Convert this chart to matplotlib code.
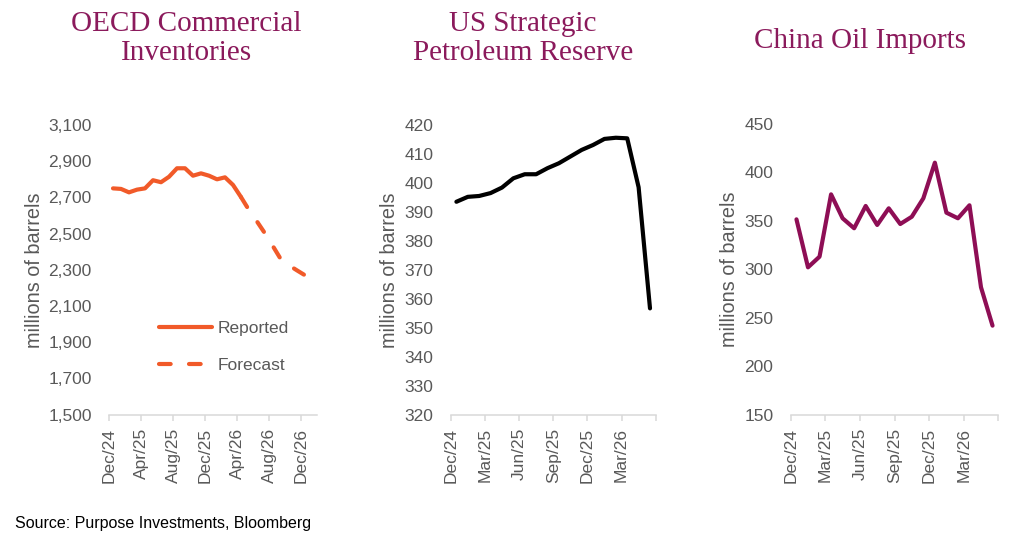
import numpy as np
import pandas as pd
import matplotlib
matplotlib.use('Agg')
import matplotlib.pyplot as plt

# data
oecd_months = pd.date_range('2024-12-01', periods=26, freq='MS').strftime('%b/%y').tolist()
oecd_reported = [2750, 2747, 2728, 2743, 2750, 2795, 2784, 2814, 2861, 2861, 2820, 2833,
                 2820, 2800, 2811, 2769, 2702]
oecd_forecast = [2702, 2630, 2567, 2501, 2430, 2357, 2325, 2297, 2270, 2300]

spr_months = pd.date_range('2024-12-01', periods=18, freq='MS').strftime('%b/%y').tolist()
spr = [393.5, 395.2, 395.5, 396.5, 398.4, 401.6, 403.0, 403.0, 405.1, 406.8, 409.1, 411.4,
       413.1, 415.2, 415.6, 415.4, 398.5, 356.7]

china_months = pd.date_range('2024-12-01', periods=18, freq='MS').strftime('%b/%y').tolist()
china = [351.6, 302.1, 313.1, 377.4, 352.7, 342.4, 365.4, 345.8, 363.0, 346.8, 354.3, 373.3,
         410.1, 358.5, 352.7, 366.1, 281.5, 241.9]

title_color = '#8B1A5C'
text_gray = '#595959'
axis_gray = '#D9D9D9'

plt.rcParams['font.family'] = ['Liberation Sans', 'DejaVu Sans']

fig = plt.figure(figsize=(10.24, 5.53), dpi=100)
W, H = 1024, 553


def make_axes(x0, x1, y0, y1):
    return fig.add_axes([x0 / W, 1 - y1 / H, (x1 - x0) / W, (y1 - y0) / H])


def style(ax, nmonths, step, labels, ylim, yticks, ylabel_x):
    for s in ['top', 'right', 'left']:
        ax.spines[s].set_visible(False)
    ax.spines['bottom'].set_color(axis_gray)
    ax.spines['bottom'].set_linewidth(1.1)
    ax.set_xlim(0, nmonths)
    ticks = list(range(0, nmonths + 1, step))
    ax.set_xticks(ticks)
    ax.set_xticklabels([labels[t] if t < len(labels) and t < nmonths - 1 else '' for t in ticks],
                       rotation=90)
    ax.tick_params(axis='x', direction='out', length=4, width=1.1, color=axis_gray,
                   labelsize=12.5, labelcolor=text_gray, pad=5.5)
    ax.set_ylim(*ylim)
    ax.set_yticks(yticks)
    ax.tick_params(axis='y', length=0, labelsize=12.5, labelcolor=text_gray, pad=12.5)
    ax.set_ylabel('millions of barrels', fontsize=14.3, color=text_gray)
    ax.yaxis.set_label_coords(ylabel_x, 0.5)


# OECD commercial inventories
ax1 = make_axes(109, 317, 125, 414.7)
x_rep = np.arange(len(oecd_reported)) + 0.5
x_fc = np.arange(len(oecd_forecast)) + len(oecd_reported) - 0.5
ax1.plot(x_rep, oecd_reported, color='#F15A29', lw=3, solid_capstyle='round',
         solid_joinstyle='round', label='Reported')
ax1.plot(x_fc, oecd_forecast, color='#F15A29', lw=3, linestyle=(0, (2.8, 4.4)),
         dash_capstyle='round', dash_joinstyle='round', label='Forecast')
style(ax1, 26, 4, oecd_months, (1500, 3100), range(1500, 3101, 200), -0.314)
ax1.yaxis.set_major_formatter(matplotlib.ticker.StrMethodFormatter('{x:,.0f}'))
ax1.legend(loc='upper left', bbox_to_anchor=(0.242, 0.323), frameon=False, fontsize=12.5,
           labelcolor=text_gray, handlelength=3.05, handletextpad=0.3, labelspacing=1.25,
           borderpad=0, borderaxespad=0)

# US strategic petroleum reserve
ax2 = make_axes(450.7, 655.7, 125, 414.7)
ax2.plot(np.arange(len(spr)) + 0.5, spr, color='black', lw=3, solid_capstyle='round',
         solid_joinstyle='round')
style(ax2, 18, 3, spr_months, (320, 420), range(320, 421, 10), -0.252)

# China oil imports
ax3 = make_axes(790.7, 998.3, 124, 414.7)
ax3.plot(np.arange(len(china)) + 0.5, china, color='#8E0E55', lw=3, solid_capstyle='round',
         solid_joinstyle='round')
style(ax3, 18, 3, china_months, (150, 450), range(150, 451, 50), -0.249)

# titles
title_kw = dict(ha='center', va='baseline', fontsize=21, color=title_color,
                family='Liberation Serif', linespacing=1.15)
fig.text(186 / W, 1 - 60 / H, 'OECD Commercial\nInventories', **title_kw)
fig.text(523 / W, 1 - 60 / H, 'US Strategic\nPetroleum Reserve', **title_kw)
fig.text(860 / W, 1 - 48 / H, 'China Oil Imports', **title_kw)

fig.text(15 / W, 1 - 528 / H, 'Source: Purpose Investments, Bloomberg', ha='left',
         va='baseline', fontsize=11.5, color='black')

plt.savefig('out.png', dpi=100)
